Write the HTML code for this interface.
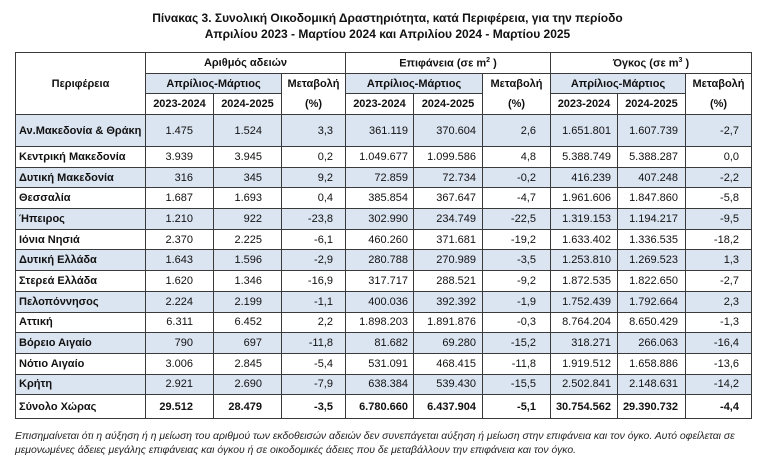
<!DOCTYPE html>
<html><head><meta charset="utf-8"><style>
body{margin:0;width:775px;height:458px;background:#fff;position:relative;overflow:hidden;font-family:"Liberation Sans","DejaVu Sans",sans-serif;color:#111}
.t{position:absolute;left:0;width:775px;text-align:center;font-weight:bold;font-size:12px}
table{position:absolute;left:15px;top:52px;border-collapse:collapse;table-layout:fixed;font-size:11px}
td{border:1px solid #3a3a3a;padding:0;overflow:hidden;white-space:nowrap}
.h td{font-weight:bold;text-align:center}
.s{background:#dbe4f1}
td.n{text-align:right}
td.l{font-weight:bold;padding-left:3px;text-align:left}
.b td{font-weight:bold}
.f{position:absolute;left:15px;font-style:italic;font-size:10.4px;color:#222}
</style></head><body>
<div class="t" style="top:11px">Πίνακας 3. Συνολική Οικοδομική Δραστηριότητα, κατά Περιφέρεια, για την περίοδο</div>
<div class="t" style="top:27px">Απριλίου 2023 - Μαρτίου 2024 και Απριλίου 2024 - Μαρτίου 2025</div>
<table>
<colgroup><col style="width:130px"><col style="width:68px"><col style="width:68px"><col style="width:64px"><col style="width:68px"><col style="width:69px"><col style="width:68px"><col style="width:67px"><col style="width:68px"><col style="width:66px"></colgroup>
<tr class="h" style="height:21px"><td rowspan="3">Περιφέρεια</td><td colspan="3">Αριθμός αδειών</td><td colspan="3">Επιφάνεια (σε m<sup style="font-size:7px">2</sup> )</td><td colspan="3">Όγκος (σε m<sup style="font-size:7px">3</sup> )</td></tr>
<tr class="h" style="height:20px"><td colspan="2" class="s">Απρίλιος-Μάρτιος</td><td rowspan="2" style="line-height:20px">Μεταβολή<br>(%)</td><td colspan="2" class="s">Απρίλιος-Μάρτιος</td><td rowspan="2" style="line-height:20px">Μεταβολή<br>(%)</td><td colspan="2" class="s">Απρίλιος-Μάρτιος</td><td rowspan="2" style="line-height:20px">Μεταβολή<br>(%)</td></tr>
<tr class="h" style="height:21px"><td>2023-2024</td><td>2024-2025</td><td>2023-2024</td><td>2024-2025</td><td>2023-2024</td><td>2024-2025</td></tr>
<tr class="s" style="height:32px"><td class="l">Αν.Μακεδονία &amp; Θράκη</td><td class="n" style="padding-right:20px">1.475</td><td class="n" style="padding-right:19px">1.524</td><td class="n" style="padding-right:12px">3,3</td><td class="n" style="padding-right:5px">361.119</td><td class="n" style="padding-right:6px">370.604</td><td class="n" style="padding-right:14px">2,6</td><td class="n" style="padding-right:6px">1.651.801</td><td class="n" style="padding-right:7px">1.607.739</td><td class="n" style="padding-right:12px">-2,7</td></tr>
<tbody id="b"></tbody>
</table>
<div class="f" style="top:431px">Επισημαίνεται ότι η αύξηση ή η μείωση του αριθμού των εκδοθεισών αδειών δεν συνεπάγεται αύξηση ή μείωση στην επιφάνεια και τον όγκο. Αυτό οφείλεται σε</div>
<div class="f" style="top:445px">μεμονωμένες άδειες μεγάλης επιφάνειας και όγκου ή σε οικοδομικές άδειες που δε μεταβάλλουν την επιφάνεια και τον όγκο.</div>
<script>
var d=[["Κεντρική Μακεδονία","3.939","3.945","0,2","1.049.677","1.099.586","4,8","5.388.749","5.388.287","0,0"],
["Δυτική Μακεδονία","316","345","9,2","72.859","72.734","-0,2","416.239","407.248","-2,2"],
["Θεσσαλία","1.687","1.693","0,4","385.854","367.647","-4,7","1.961.606","1.847.860","-5,8"],
["Ήπειρος","1.210","922","-23,8","302.990","234.749","-22,5","1.319.153","1.194.217","-9,5"],
["Ιόνια Νησιά","2.370","2.225","-6,1","460.260","371.681","-19,2","1.633.402","1.336.535","-18,2"],
["Δυτική Ελλάδα","1.643","1.596","-2,9","280.788","270.989","-3,5","1.253.810","1.269.523","1,3"],
["Στερεά Ελλάδα","1.620","1.346","-16,9","317.717","288.521","-9,2","1.872.535","1.822.650","-2,7"],
["Πελοπόννησος","2.224","2.199","-1,1","400.036","392.392","-1,9","1.752.439","1.792.664","2,3"],
["Αττική","6.311","6.452","2,2","1.898.203","1.891.876","-0,3","8.764.204","8.650.429","-1,3"],
["Βόρειο Αιγαίο","790","697","-11,8","81.682","69.280","-15,2","318.271","266.063","-16,4"],
["Νότιο Αιγαίο","3.006","2.845","-5,4","531.091","468.415","-11,8","1.919.512","1.658.886","-13,6"],
["Κρήτη","2.921","2.690","-7,9","638.384","539.430","-15,5","2.502.841","2.148.631","-14,2"],
["Σύνολο Χώρας","29.512","28.479","-3,5","6.780.660","6.437.904","-5,1","30.754.562","29.390.732","-4,4"]];
var p=[20,19,12,5,6,14,6,7,12],h="";
d.forEach(function(r,i){var last=i==d.length-1;h+='<tr class="'+(i%2==1?'s':'')+(last?' b':'')+'" style="height:'+(last?24:20.7)+'px"><td class="l">'+r[0]+'</td>';
for(var j=1;j<10;j++)h+='<td class="n" style="padding-right:'+p[j-1]+'px">'+r[j]+'</td>';h+='</tr>';});
document.getElementById('b').innerHTML=h;
</script>
</body></html>
